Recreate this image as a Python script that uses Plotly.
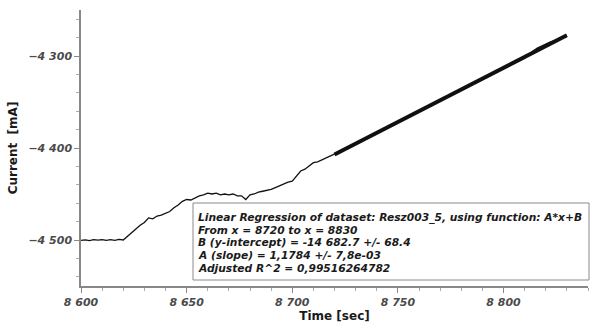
import plotly.graph_objects as go

# Measured current trace (time in seconds, current in mA)
time_s = [8600, 8602, 8604, 8606, 8608, 8610, 8612, 8614, 8616, 8618, 8620,
          8622, 8624, 8626, 8628, 8630, 8632, 8634, 8636, 8638, 8640,
          8642, 8644, 8646, 8648, 8650, 8652, 8654, 8656, 8658, 8660,
          8662, 8664, 8666, 8668, 8670, 8672, 8674, 8676, 8678, 8680,
          8682, 8684, 8686, 8688, 8690, 8692, 8694, 8696, 8698, 8700,
          8702, 8704, 8706, 8708, 8710, 8712, 8714, 8716, 8718, 8720,
          8722, 8724, 8726, 8728, 8730, 8732, 8734, 8736, 8738, 8740,
          8742, 8744, 8746, 8748, 8750, 8752, 8754, 8756, 8758, 8760,
          8762, 8764, 8766, 8768, 8770, 8772, 8774, 8776, 8778, 8780,
          8782, 8784, 8786, 8788, 8790, 8792, 8794, 8796, 8798, 8800,
          8802, 8804, 8806, 8808, 8810, 8812, 8814, 8816, 8818, 8820,
          8822, 8824, 8826, 8828, 8830]
current_ma = [-4500.5, -4499.8, -4500.6, -4499.5, -4500.2, -4499.6, -4500.4, -4499.7, -4500.3, -4499.4, -4500.0,
              -4496.0, -4491.0, -4488.0, -4484.0, -4481.0, -4476.0, -4477.0, -4474.0, -4473.0, -4471.0,
              -4469.0, -4465.0, -4462.0, -4458.0, -4456.0, -4456.5, -4454.0, -4452.0, -4451.0, -4449.0,
              -4450.0, -4449.0, -4451.0, -4450.0, -4451.0, -4450.0, -4452.0, -4452.0, -4456.0, -4451.0,
              -4450.0, -4448.0, -4447.0, -4446.0, -4445.0, -4443.0, -4441.0, -4439.0, -4437.0, -4436.0,
              -4430.0, -4425.0, -4423.0, -4419.0, -4416.0, -4415.0, -4413.0, -4411.0, -4409.0, -4407.0,
              -4404.8, -4402.4, -4399.9, -4397.5, -4395.4, -4392.6, -4390.4, -4388.2, -4385.9, -4383.3,
              -4381.2, -4378.6, -4376.6, -4374.1, -4371.6, -4369.6, -4367.1, -4364.9, -4362.2, -4360.2,
              -4357.8, -4355.6, -4353.0, -4351.0, -4348.4, -4346.3, -4344.0, -4341.5, -4339.3, -4336.9,
              -4334.8, -4332.2, -4330.1, -4327.6, -4325.4, -4323.0, -4320.7, -4318.6, -4316.1, -4313.7,
              -4311.6, -4309.2, -4306.8, -4304.6, -4302.3, -4299.0, -4294.5, -4291.5, -4289.0, -4287.0,
              -4285.0, -4283.5, -4282.0, -4279.9, -4277.4]

# Axis ticks
x_tick_vals = [8600, 8650, 8700, 8750, 8800]
x_tick_text = ["8 600", "8 650", "8 700", "8 750", "8 800"]
y_tick_vals = [-4500, -4400, -4300]
y_tick_text = ["\u22124 500", "\u22124 400", "\u22124 300"]

# Linear regression result A*x+B over the fit window
fit_from, fit_to = 8720, 8830
slope_a = 1.1784
intercept_b = -14682.7

fit_lines = [
    "Linear Regression of dataset: Resz003_5, using function: A*x+B",
    "From x = 8720 to x = 8830",
    "B (y-intercept) = -14 682.7 +/- 68.4",
    "A (slope) = 1,1784 +/- 7,8e-03",
    "Adjusted R^2 = 0,99516264782",
]

fit_x = [fit_from, fit_to]
fit_y = [slope_a * x + intercept_b for x in fit_x]

fig = go.Figure()
fig.add_trace(go.Scatter(x=fit_x, y=fit_y, mode="lines",
                         line=dict(color="#111111", width=4), showlegend=False))
fig.add_trace(go.Scatter(x=time_s, y=current_ma, mode="lines",
                         line=dict(color="#111111", width=1.3), showlegend=False))

W, H = 591, 327
ml, mr, mt, mb = 81, 3, 10, 41
pw, ph = W - ml - mr, H - mt - mb


def px_x(p):
    return (p - ml) / pw


def px_y(p):
    return (H - mb - p) / ph


# Result box
fig.add_shape(type="rect", xref="paper", yref="paper",
              x0=px_x(193), x1=px_x(589), y0=px_y(280), y1=px_y(203),
              line=dict(color="#8a8a8a", width=1), fillcolor="white", layer="above")
for i, txt in enumerate(fit_lines):
    fig.add_annotation(xref="paper", yref="paper", x=px_x(196), y=px_y(217.3 + i * 12.75),
                       xanchor="left", yanchor="middle", text="<b><i>" + txt + "</i></b>",
                       showarrow=False,
                       font=dict(family="DejaVu Sans", size=10.7, color="#1a1a1a"))

tick_font = dict(family="DejaVu Sans", size=11, color="#4a4a4a")
title_font = dict(family="DejaVu Sans", size=12, color="#1a1a1a")

fig.update_xaxes(range=[8600, 8840], tickvals=x_tick_vals,
                 ticktext=["<b><i>" + t + "</i></b>" for t in x_tick_text],
                 ticks="outside", ticklen=5,
                 tickcolor="#888888", showline=True, linecolor="#888888", linewidth=1.5,
                 showgrid=False, zeroline=False, tickfont=tick_font,
                 minor=dict(dtick=10, tick0=8600, ticks="outside", ticklen=3, tickcolor="#aaaaaa", showgrid=False),
                 title=dict(text="<b>Time [sec]</b>", font=title_font, standoff=4))
fig.update_yaxes(range=[-4550, -4250], tickvals=y_tick_vals,
                 ticktext=["<b><i>" + t + "</i></b>" for t in y_tick_text],
                 ticks="outside", ticklen=5,
                 tickcolor="#888888", showline=True, linecolor="#888888", linewidth=1.5,
                 showgrid=False, zeroline=False, tickfont=tick_font,
                 minor=dict(dtick=20, tick0=-4500, ticks="outside", ticklen=3, tickcolor="#aaaaaa", showgrid=False),
                 title=dict(text="<b>Current  [mA]</b>", font=title_font, standoff=8))

fig.update_layout(width=W, height=H, margin=dict(l=ml, r=mr, t=mt, b=mb),
                  plot_bgcolor="white", paper_bgcolor="white", showlegend=False)

fig.write_html("out.html")
